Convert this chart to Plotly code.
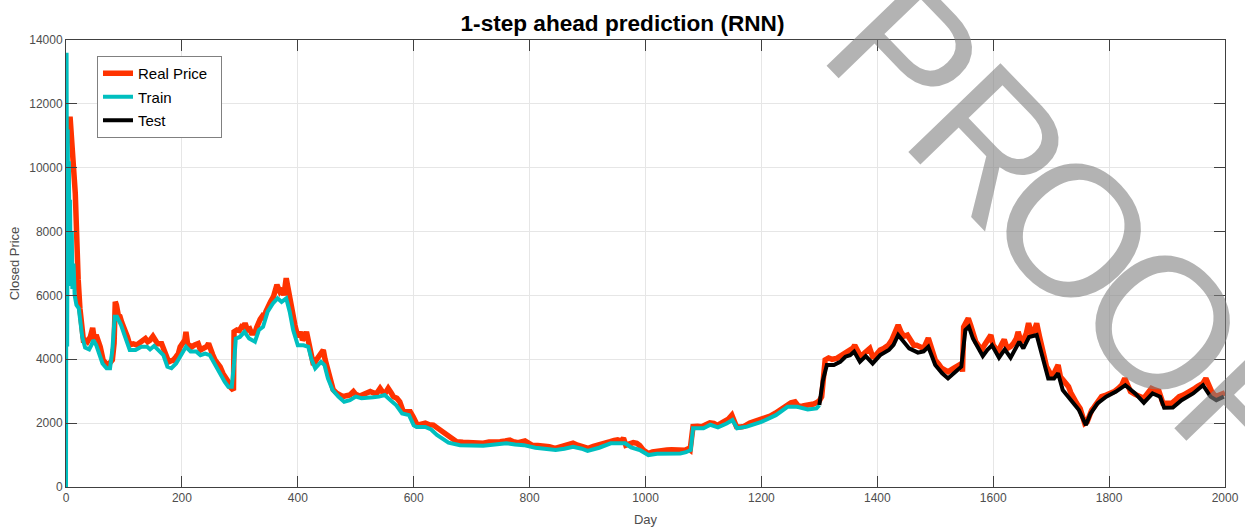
import plotly.graph_objects as go

# ---------------- data ----------------
real_day = [1, 4, 7, 10, 13, 16, 18, 21, 24, 27, 30, 34, 37, 42, 46, 49, 52, 56, 59, 64, 67, 71, 75, 80, 83, 85, 87, 90, 93, 96, 99,
            102, 106, 110, 116, 122, 128, 133, 137, 141, 145, 150, 154, 158, 165, 168, 171, 177, 181, 185, 190, 194, 197,
            202, 205, 207, 210, 214, 217, 222, 228, 232, 237, 243, 246, 249, 253, 257, 262, 266, 271, 277, 280, 283, 286, 289,
            290, 295, 299, 303, 306, 309, 313, 317, 320, 326, 329, 332, 335, 338, 341, 345, 349, 353, 358, 361, 364, 367, 369,
            373, 376, 380, 383, 386, 389, 392, 395, 398, 401, 405, 408, 412, 415, 418, 421, 424, 427, 432, 438, 444, 447, 450,
            453, 456, 461, 467, 472, 478, 484, 490, 496, 500, 507, 513, 519, 525, 530, 536, 542, 547, 551, 556, 561, 565, 571,
            576, 582, 588, 594, 599, 602, 606, 613, 620, 627, 634, 640, 645, 652, 658, 663, 668, 674, 685, 697, 710, 720, 730,
            740, 749, 758, 766, 772, 780, 792, 804, 814, 824, 834, 844, 852, 860, 868, 875, 883, 892, 901, 910, 920, 930, 939,
            946, 952, 958, 962, 966, 972, 979, 985, 990, 996, 1005, 1012, 1020, 1030, 1037, 1045, 1052, 1060, 1068, 1074, 1077,
            1080, 1082, 1090, 1097, 1104, 1111, 1118, 1124, 1130, 1137, 1143, 1149, 1153, 1157, 1164, 1170, 1180, 1189, 1198,
            1206, 1215, 1224, 1232, 1238, 1244, 1251, 1258, 1264, 1271, 1278, 1284, 1290, 1295, 1300, 1304, 1307, 1310, 1316,
            1322, 1330, 1336, 1342, 1347, 1353, 1358, 1361, 1365, 1369, 1373, 1378, 1382, 1387, 1393, 1400, 1405, 1412, 1419,
            1425, 1431, 1436, 1441, 1446, 1452, 1458, 1463, 1468, 1474, 1480, 1488, 1494, 1500, 1506, 1511, 1517, 1522, 1530,
            1536, 1542, 1546, 1547, 1549, 1553, 1557, 1561, 1565, 1570, 1575, 1580, 1585, 1590, 1596, 1600, 1605, 1609, 1614,
            1619, 1624, 1630, 1635, 1640, 1643, 1648, 1652, 1657, 1661, 1666, 1671, 1675, 1680, 1684, 1688, 1692, 1697, 1701,
            1706, 1712, 1716, 1723, 1730, 1734, 1738, 1744, 1750, 1755, 1758, 1762, 1766, 1770, 1774, 1778, 1783, 1787, 1795,
            1802, 1810, 1816, 1822, 1827, 1832, 1837, 1845, 1853, 1860, 1867, 1873, 1879, 1886, 1893, 1900, 1908, 1915, 1921,
            1928, 1934, 1941, 1948, 1953, 1957, 1962, 1967, 1972, 1977, 1984, 1990, 1997, 2000]
real_price = [10800, 11000, 11600, 11000, 10000, 9200, 7300, 6500, 5600, 5000, 4600, 4600, 4550, 4700, 4980, 4600, 4760, 4550,
              4390, 3980, 3920, 3820, 3870, 3980, 4500, 5800, 5700, 5400, 5350, 5170, 5050,
              4920, 4700, 4450, 4480, 4450, 4550, 4600, 4650, 4550, 4600, 4720, 4560, 4490, 4490, 4350, 4190, 3920, 3950, 3970,
              4080, 4180, 4390,
              4490, 4600, 4860, 4450, 4430, 4390, 4450, 4490, 4290, 4340, 4400, 4500, 4290, 4150, 3980, 3860, 3760, 3550, 3400,
              3300, 3140, 3080, 3030,
              4860, 4920, 4900, 5020, 5000, 5130, 4920, 4950, 4820, 4820, 5000, 5180, 5250, 5330, 5240, 5500, 5700, 5800, 5960,
              6100, 6330, 6200, 6120,
              6220, 6000, 6540, 6200, 5960, 5600, 5300, 5070, 4850, 4700, 4860, 4600, 4700, 4860, 4600, 4390, 4100, 3820, 3980,
              4130, 4290, 4000, 3770,
              3500, 3250, 3050, 2940, 2880, 2830, 2860, 2880, 2990, 2900, 2850, 2900, 2930, 2990, 2950, 2930, 3090, 2960, 2940,
              3090, 2950, 2830, 2780,
              2670, 2360, 2380, 2360, 2200, 2080, 1940, 1970, 2000, 1950, 1940, 1860, 1790, 1700, 1600, 1530, 1460, 1420, 1400,
              1390, 1380, 1370, 1410,
              1400, 1420, 1440, 1470, 1420, 1390, 1440, 1310, 1300, 1290, 1260, 1210, 1250, 1270, 1330, 1370, 1310, 1260, 1210,
              1270, 1310, 1380, 1420,
              1460, 1480, 1440, 1530, 1310, 1350, 1390, 1370, 1300, 1160, 1050, 1100, 1130, 1150, 1160, 1170, 1160, 1160, 1150,
              1200, 1160,
              1600, 1890, 1900, 1890, 1950, 2010, 1990, 1930, 1990, 2060, 2130, 2250, 2050, 1890, 1880, 1900, 2000, 2050, 2100,
              2150, 2220, 2310, 2410, 2500, 2600, 2640, 2670, 2530, 2540, 2550, 2560, 2600, 2640, 2700, 2830, 3400, 3980, 4040,
              4000, 4030, 4100, 4200, 4240, 4310, 4350, 4440, 4300, 4150, 4030, 4200, 4290, 4340, 4030, 4200, 4290, 4350, 4440,
              4600, 4860, 5070, 4850, 4720, 4760, 4550, 4440, 4440, 4400, 4340, 4660, 4300, 3980, 3850, 3720, 3660, 3610, 3700,
              3770, 3830, 3870, 3610, 5010, 5150, 5280, 5070, 4800, 4550, 4420, 4290, 4450, 4600, 4760, 4440, 4300, 4240, 4450,
              4620, 4340, 4400, 4500, 4650, 4860, 4550, 4600, 4800, 5130, 4820, 4900, 5130, 4700, 4390, 4050, 3770, 3600, 3450,
              3600, 3820, 3450, 3300, 3140, 2950, 2780, 2620, 2460, 2200, 1990, 2040, 2250, 2410, 2500, 2620, 2730, 2830, 2880,
              2930, 3000, 3090, 3200, 3400, 3150, 2990, 2900, 2830, 2780, 2950, 3090, 3040, 3000, 2620, 2640, 2620, 2730, 2830,
              2880, 2930, 3000, 3090, 3150, 3190, 3250, 3400, 3200, 2990, 2830, 2880, 2930, 2950]

train_day = [0, 1, 2, 3, 4, 5, 6, 7, 8, 10, 11, 13, 15, 18, 22, 25, 28, 33, 40, 44, 47, 52, 58, 63, 70, 76, 80, 84, 88, 95,
             102, 110, 120, 130, 140, 145, 152, 160, 168, 175, 182, 190, 198, 207, 215, 225, 232, 240, 248, 256, 265, 274,
             280, 286, 290, 293, 300, 308, 316, 326, 333, 340, 348, 357, 365, 372, 380, 386, 392, 400, 410, 418, 424, 430,
             440, 446, 452, 460, 470, 480, 490, 500, 510, 520, 530, 540, 550, 560, 570, 580, 592, 600, 605, 620, 630, 640,
             660, 680, 700, 720, 740, 760, 775, 790, 810, 830, 845, 860, 875, 890, 900, 920, 940, 965, 975, 990, 1005, 1020,
             1040, 1060, 1070, 1078, 1082, 1100, 1112, 1125, 1140, 1150, 1158, 1175, 1200, 1225, 1245, 1262, 1280, 1295, 1300]
train_price = [0, 13600, 4400, 11200, 6500, 10200, 6800, 9000, 6300, 8000, 6200, 7000, 6000, 5700, 5600, 5000, 4700, 4370,
               4310, 4450, 4600, 4450, 4080, 3870, 3720, 3720, 4290, 5330, 5330, 5070,
               4700, 4290, 4290, 4390, 4390, 4310, 4420, 4290, 4130, 3770, 3720, 3870, 4130, 4390, 4240, 4240, 4130, 4180,
               4130, 3870, 3560, 3290,
               3140, 3140, 3870, 4650, 4700, 4860, 4650, 4550, 4920, 5020, 5490, 5750, 5910, 5800, 5910, 5490, 4920, 4440,
               4440, 4390, 3980, 3720,
               3920, 3820, 3400, 3040, 2830, 2670, 2720, 2830, 2780, 2780, 2810, 2830, 2880, 2720, 2560, 2300, 2250, 1930,
               1880, 1880, 1800, 1630,
               1390, 1310, 1300, 1290, 1330, 1370, 1330, 1310, 1230, 1190, 1160, 1200, 1260, 1200, 1130, 1230, 1370, 1370,
               1240, 1160, 1000, 1040,
               1050, 1050, 1090, 1160, 1840, 1840, 1950, 1870, 1990, 2100, 1840, 1890, 2040, 2250, 2510, 2510, 2430, 2460, 2560]

test_day = [1300, 1306, 1313, 1325, 1336, 1345, 1353, 1360, 1370, 1380, 1392, 1405, 1420, 1428, 1436, 1445, 1455, 1470,
            1480, 1488, 1500, 1512, 1522, 1535, 1545, 1552, 1558, 1565, 1575, 1582, 1590, 1598, 1610, 1620, 1630, 1645,
            1652, 1662, 1675, 1685, 1695, 1705, 1712, 1720, 1735, 1748, 1760, 1768, 1780, 1795, 1812, 1828, 1845, 1860,
            1875, 1888, 1895, 1910, 1925, 1945, 1962, 1975, 1985, 1998]
test_price = [2570, 3330, 3820, 3820, 3920, 4080, 4130, 4240, 3920, 4100, 3870, 4130, 4290, 4450, 4760, 4550, 4340, 4210,
              4250, 4390, 3820, 3560, 3400, 3610, 3770, 4920, 5020, 4650, 4290, 4100, 4300, 4440, 4050, 4310, 4050, 4550,
              4340, 4700, 4760, 4080, 3400, 3400, 3560, 3040, 2720, 2410, 1940, 2300, 2620, 2830, 2990, 3190, 2930, 2640,
              2930, 2830, 2480, 2490, 2720, 2930, 3190, 2830, 2720, 2830]

series_names = ["Real Price", "Train", "Test"]
title_text = "1-step ahead prediction (RNN)"
x_label = "Day"
y_label = "Closed Price"
watermark = "PROOF"

# ---------------- layout constants (pixels) ----------------
W, H = 1245, 530
ML, MR, MT, MB = 66, 20, 40, 43
PW, PH = W - ML - MR, H - MT - MB
# centres of the watermark letters, in page pixels
wm_centres = [(905, 55), (991, 144), (1074, 230), (1163, 322), (1250, 413)]

FONT = "Arial, Liberation Sans, Helvetica, sans-serif"

# ---------------- figure ----------------
fig = go.Figure()
fig.add_trace(go.Scatter(x=real_day, y=real_price, mode="lines", name=series_names[0] + "&nbsp;&nbsp;",
                         legendgroup="a", line=dict(color="#FF3300", width=5.5)))
fig.add_trace(go.Scatter(x=train_day, y=train_price, mode="lines", name=series_names[1],
                         legendgroup="b", line=dict(color="#00BFBF", width=4)))
fig.add_trace(go.Scatter(x=test_day, y=test_price, mode="lines", name=series_names[2],
                         legendgroup="c", line=dict(color="#000000", width=4)))

axis_common = dict(
    showline=True, linecolor="#404040", linewidth=1, mirror="ticks",
    ticks="inside", ticklen=11, tickcolor="#404040", tickwidth=1,
    showgrid=True, gridcolor="#E6E6E6", gridwidth=1, zeroline=False, automargin=False,
    tickfont=dict(family=FONT, size=12, color="#4D4D4D"),
)

fig.update_xaxes(range=[0, 2000], dtick=200, tick0=0,
                 title=dict(text=x_label, font=dict(family=FONT, size=13, color="#4D4D4D"), standoff=10),
                 **axis_common)
fig.update_yaxes(range=[0, 14000], dtick=2000, tick0=0, tickformat="d",
                 title=dict(text=y_label, font=dict(family=FONT, size=13, color="#4D4D4D"), standoff=6),
                 **axis_common)

annotations = []
for ch, (px, py) in zip(watermark, wm_centres):
    annotations.append(dict(text=ch, xref="paper", yref="paper",
                            x=(px - ML) / PW, y=(H - MB - py) / PH,
                            xanchor="center", yanchor="middle", showarrow=False, textangle=46,
                            font=dict(family="Liberation Sans, Arial, sans-serif", size=186,
                                      color="rgba(128,128,128,0.6)")))

fig.update_layout(
    width=W, height=H,
    margin=dict(l=ML, r=MR, t=MT, b=MB, pad=0),
    paper_bgcolor="white", plot_bgcolor="white",
    title=dict(text="<b>" + title_text + "</b>", x=0.5, xanchor="center", y=1 - 23 / H, yanchor="middle",
               font=dict(family=FONT, size=22.6, color="#000000")),
    showlegend=True,
    legend=dict(x=(97 - ML) / PW, y=(H - MB - 56) / PH, xanchor="left", yanchor="top",
                bgcolor="white", bordercolor="#808080", borderwidth=1,
                font=dict(family=FONT, size=15, color="#000000"),
                traceorder="grouped", tracegroupgap=1),
    annotations=annotations,
)

fig.write_html("out.html", config={"displayModeBar": False})

# remove the default page margin so the figure sits at the window's top-left corner
with open("out.html", "r", encoding="utf-8") as f:
    html = f.read()
html = html.replace("<head>", "<head><style>html,body{margin:0;padding:0;}</style>", 1)
with open("out.html", "w", encoding="utf-8") as f:
    f.write(html)
